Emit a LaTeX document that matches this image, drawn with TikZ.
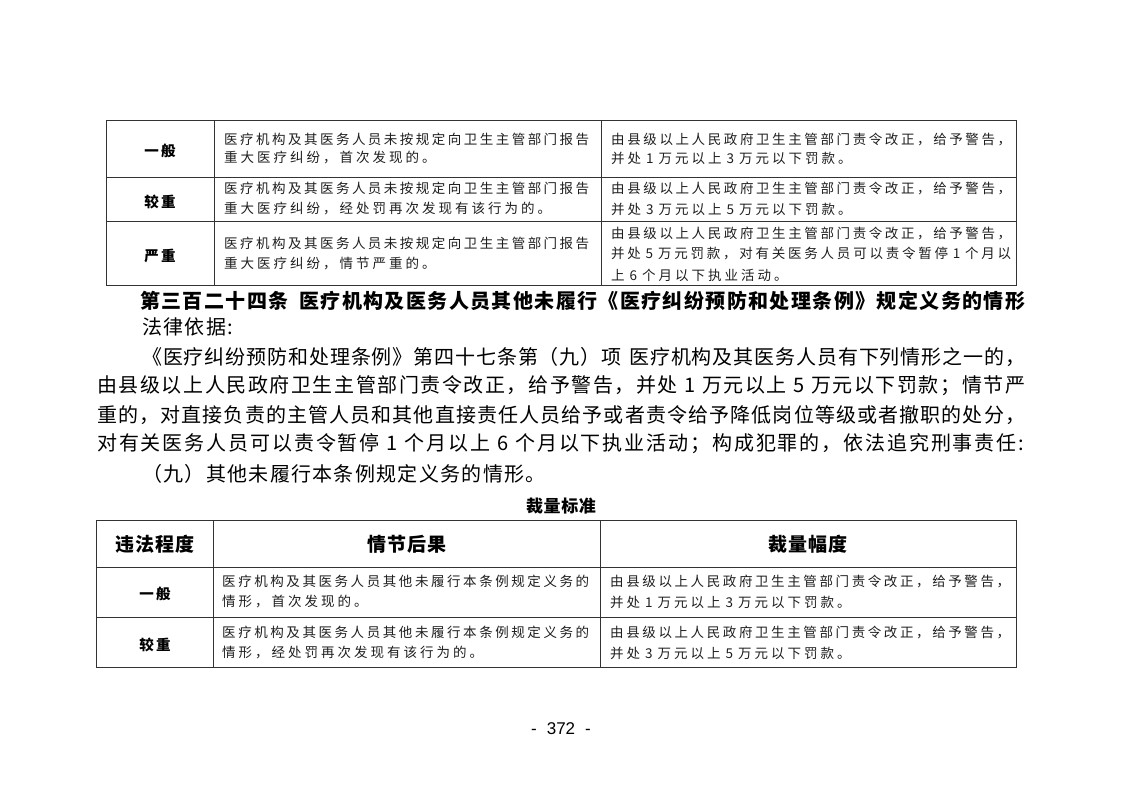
\documentclass[tikz,border=0pt]{standalone}
\usepackage{fontspec}
\setmainfont{Noto Sans CJK SC}
\newfontfamily\bodyf{Noto Sans CJK SC}
\newfontfamily\tabf{Noto Sans CJK SC}
\newfontfamily\headf{Noto Sans CJK SC}
\newfontfamily\pnf{Liberation Sans}
\ExplSyntaxOn
\NewDocumentCommand{\jl}{m m}{\hbox~to~#1~{\tl_map_inline:nn {#2}{##1\hfil}\unskip}}
\NewDocumentCommand{\spl}{m m}{\hbox{\tl_map_inline:nn {#2}{##1\hspace{#1}}\unskip}}
\ExplSyntaxOff
\newcommand{\dsp}{\hspace{2pt}}
\newcommand{\bsp}{\hspace{5pt}}
\tikzset{
  grid/.style={draw=black!80, line width=1pt},
  tline/.style={anchor=west, inner sep=0pt},
  bodytxt/.style={font=\bodyf\fontsize{20pt}{24pt}\selectfont, text=black},
  titletxt/.style={font=\bodyf\bfseries\fontsize{20pt}{24pt}\selectfont, text=black},
  tabtxt/.style={font=\tabf\fontsize{13.5pt}{16pt}\selectfont, text=black!88},
  lvl/.style={inner sep=0pt, font=\tabf\bfseries\fontsize{14.5pt}{17pt}\selectfont, text=black},
  headtxt/.style={inner sep=0pt, font=\headf\bfseries\fontsize{19pt}{22pt}\selectfont, text=black},
}
\begin{document}
\begin{tikzpicture}[x=1pt,y=-1pt]
\useasboundingbox (0,0) rectangle (1122,793);
\fill[white] (0,0) rectangle (1122,793);

% ---------- top table ----------
\draw[grid] (106,120) rectangle (1016,285);
\draw[grid] (106,177) -- (1016,177);
\draw[grid] (106,221) -- (1016,221);
\draw[grid] (214,120) -- (214,285);
\draw[grid] (601,120) -- (601,285);

\node[lvl] (t1l1) at (160,151) {\spl{2.5pt}{一般}};
\node[lvl] (t1l2) at (160,202) {\spl{2.5pt}{较重}};
\node[lvl] (t1l3) at (160,256) {\spl{2.5pt}{严重}};

\node[tline, tabtxt] (t1a1) at (224,139) {\jl{365pt}{医疗机构及其医务人员未按规定向卫生主管部门报告}};
\node[tline, tabtxt] (t1a2) at (224,158) {\spl{3pt}{重大医疗纠纷，首次发现的。}};
\node[tline, tabtxt] (t1b1) at (611,139) {\jl{400pt}{由县级以上人民政府卫生主管部门责令改正，给予警告，}};
\node[tline, tabtxt] (t1b2) at (611,158) {\spl{3pt}{并处{\dsp 1\dsp}万元以上{\dsp 3\dsp}万元以下罚款。}};

\node[tline, tabtxt] (t2a1) at (224,188) {\jl{365pt}{医疗机构及其医务人员未按规定向卫生主管部门报告}};
\node[tline, tabtxt] (t2a2) at (224,209) {\spl{3pt}{重大医疗纠纷，经处罚再次发现有该行为的。}};
\node[tline, tabtxt] (t2b1) at (611,188) {\jl{400pt}{由县级以上人民政府卫生主管部门责令改正，给予警告，}};
\node[tline, tabtxt] (t2b2) at (611,209) {\spl{3pt}{并处{\dsp 3\dsp}万元以上{\dsp 5\dsp}万元以下罚款。}};

\node[tline, tabtxt] (t3a1) at (224,243) {\jl{365pt}{医疗机构及其医务人员未按规定向卫生主管部门报告}};
\node[tline, tabtxt] (t3a2) at (224,264) {\spl{3pt}{重大医疗纠纷，情节严重的。}};
\node[tline, tabtxt] (t3b1) at (611,233) {\jl{400pt}{由县级以上人民政府卫生主管部门责令改正，给予警告，}};
\node[tline, tabtxt] (t3b2) at (611,254) {\jl{400pt}{并处{\dsp 5\dsp}万元罚款，对有关医务人员可以责令暂停{\dsp 1\dsp}个月以}};
\node[tline, tabtxt] (t3b3) at (611,275) {\spl{3pt}{上{\dsp 6\dsp}个月以下执业活动。}};

% ---------- body text ----------
\node[tline, titletxt] (title) at (140,301) {\jl{885pt}{第三百二十四条{\hspace{8pt}}医疗机构及医务人员其他未履行《医疗纠纷预防和处理条例》规定义务的情形}};
\node[tline, bodytxt] (basis) at (142,327) {\spl{1.3pt}{法律依据:}};
\node[tline, bodytxt] (p1) at (142,357) {\jl{883pt}{《医疗纠纷预防和处理条例》第四十七条第（九）项{\hspace{6pt}}医疗机构及其医务人员有下列情形之一的，}};
\node[tline, bodytxt] (p2) at (97,386) {\jl{928pt}{由县级以上人民政府卫生主管部门责令改正，给予警告，并处{\bsp 1\bsp}万元以上{\bsp 5\bsp}万元以下罚款；情节严}};
\node[tline, bodytxt] (p3) at (97,415) {\jl{928pt}{重的，对直接负责的主管人员和其他直接责任人员给予或者责令给予降低岗位等级或者撤职的处分，}};
\node[tline, bodytxt] (p4) at (97,444) {\jl{927pt}{对有关医务人员可以责令暂停{\bsp 1\bsp}个月以上{\bsp 6\bsp}个月以下执业活动；构成犯罪的，依法追究刑事责任:}};
\node[tline, bodytxt] (p5) at (142,474) {\spl{1.3pt}{（九）其他未履行本条例规定义务的情形。}};

\node[inner sep=0pt, font=\headf\bfseries\fontsize{17pt}{20pt}\selectfont] (caption) at (561,506) {\spl{0.6pt}{裁量标准}};

% ---------- bottom table ----------
\draw[grid] (96,520) rectangle (1016,667);
\draw[grid] (96,567) -- (1016,567);
\draw[grid] (96,617) -- (1016,617);
\draw[grid] (213,520) -- (213,667);
\draw[grid] (600,520) -- (600,667);

\node[headtxt] (h1) at (155,544) {\spl{0.8pt}{违法程度}};
\node[headtxt] (h2) at (407,544) {\spl{0.8pt}{情节后果}};
\node[headtxt] (h3) at (808,544) {\spl{0.8pt}{裁量幅度}};

\node[lvl] (u1l) at (155,594) {\spl{2.5pt}{一般}};
\node[lvl] (u2l) at (155,645) {\spl{2.5pt}{较重}};

\node[tline, tabtxt] (u1a1) at (222,581) {\jl{367pt}{医疗机构及其医务人员其他未履行本条例规定义务的}};
\node[tline, tabtxt] (u1a2) at (222,602) {\spl{3pt}{情形，首次发现的。}};
\node[tline, tabtxt] (u1b1) at (610,581) {\jl{400pt}{由县级以上人民政府卫生主管部门责令改正，给予警告，}};
\node[tline, tabtxt] (u1b2) at (610,602) {\spl{3pt}{并处{\dsp 1\dsp}万元以上{\dsp 3\dsp}万元以下罚款。}};

\node[tline, tabtxt] (u2a1) at (222,632) {\jl{367pt}{医疗机构及其医务人员其他未履行本条例规定义务的}};
\node[tline, tabtxt] (u2a2) at (222,653) {\spl{3pt}{情形，经处罚再次发现有该行为的。}};
\node[tline, tabtxt] (u2b1) at (610,632) {\jl{400pt}{由县级以上人民政府卫生主管部门责令改正，给予警告，}};
\node[tline, tabtxt] (u2b2) at (610,653) {\spl{3pt}{并处{\dsp 3\dsp}万元以上{\dsp 5\dsp}万元以下罚款。}};

% ---------- page number ----------
\node[inner sep=0pt, font=\pnf\fontsize{17pt}{20pt}\selectfont] (pageno) at (561,729) {-\hspace{10pt}372\hspace{10pt}-};
\end{tikzpicture}
\end{document}
